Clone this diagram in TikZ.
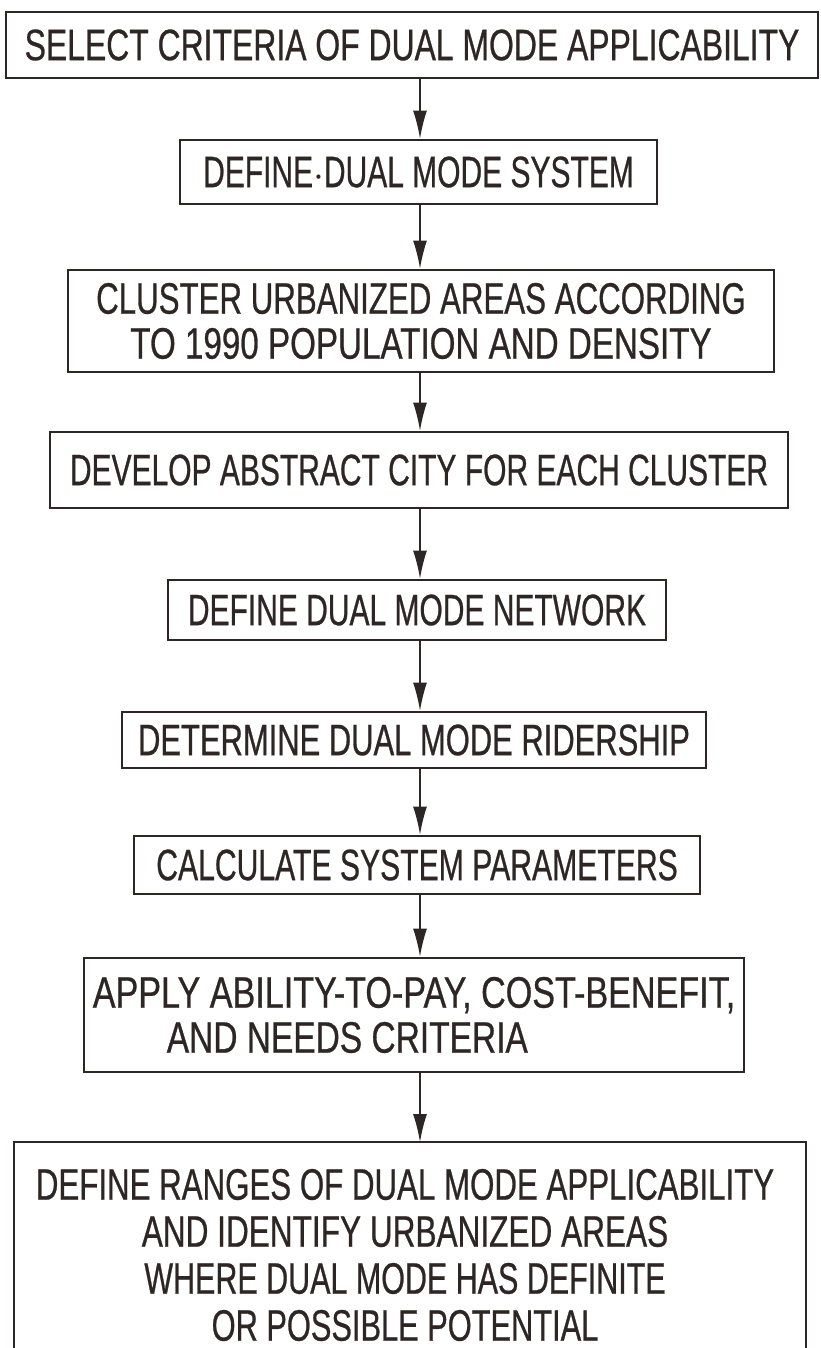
\documentclass[tikz,border=0pt]{standalone}
\usepackage{fontspec}
\usepackage{graphicx}
\setmainfont[FakeStretch=0.725,FakeBold=0.6]{Liberation Sans}
\usetikzlibrary{arrows.meta}
\newcommand{\hsq}[2]{\scalebox{#1}[1]{#2}}
\begin{document}
\begin{tikzpicture}[x=0.5pt,y=-0.5pt,
  stepbox/.style={draw=ink, line width=1.4pt, inner sep=0pt, align=center,
    text=ink, font=\fontsize{22}{22.5}\selectfont},
  flow/.style={draw=ink, line width=0.7pt, -{Latex[length=14pt,width=7pt]}}]
\definecolor{ink}{RGB}{45,38,36}
\useasboundingbox[fill=white] (0,0) rectangle (820,1348);
\coordinate (ax) at (420,0);
\node[stepbox, minimum width=406pt, minimum height=33pt] (b1) at (412,45)
  {SELECT CRITERIA OF DUAL MODE APPLICABILITY};
\node[stepbox, minimum width=238.5pt, minimum height=32pt] (b2) at (418.5,172)
  {\hsq{0.94}{DEFINE$\cdot$DUAL MODE SYSTEM}};
\node[stepbox, minimum width=353pt, minimum height=51pt] (b3) at (421,321)
  {\hsq{0.98}{CLUSTER URBANIZED AREAS ACCORDING}\\\hsq{1.04}{TO 1990 POPULATION AND DENSITY}};
\node[stepbox, minimum width=369pt, minimum height=38pt] (b4) at (419,470)
  {\hsq{0.94}{DEVELOP ABSTRACT CITY FOR EACH CLUSTER}};
\node[stepbox, minimum width=249pt, minimum height=30pt] (b5) at (417,610)
  {\hsq{0.94}{DEFINE DUAL MODE NETWORK}};
\node[stepbox, minimum width=292pt, minimum height=28pt] (b6) at (414,740)
  {\hsq{0.97}{DETERMINE DUAL MODE RIDERSHIP}};
\node[stepbox, minimum width=283pt, minimum height=29pt] (b7) at (417,865)
  {\hsq{0.945}{CALCULATE SYSTEM PARAMETERS}};
\node[stepbox, minimum width=330pt, minimum height=57pt, align=left] (b8) at (414,1015)
  {\hsq{1.07}{APPLY ABILITY-TO-PAY, COST-BENEFIT,}\\\hspace*{37pt}\hsq{1.05}{AND NEEDS CRITERIA}};
\coordinate (b9tl) at (14,1142);
\coordinate (b9tr) at (806,1142);
\coordinate (b9bl) at (14,1352);
\coordinate (b9br) at (806,1352);
\coordinate (b9top) at (420,1142);
\draw[draw=ink, line width=1.4pt] (b9bl) -- (b9tl) -- (b9tr) -- (b9br);
\node[stepbox, draw=none, font=\fontsize{22}{23.5}\selectfont] (b9) at (405,1255)
  {\hsq{0.98}{DEFINE RANGES OF DUAL MODE APPLICABILITY}\\\hsq{0.99}{AND IDENTIFY URBANIZED AREAS}\\\hsq{0.955}{WHERE DUAL MODE HAS DEFINITE}\\\hsq{0.965}{OR POSSIBLE POTENTIAL}};
\draw[flow] (b1.south -| ax) -- (b2.north -| ax);
\draw[flow] (b2.south -| ax) -- (b3.north -| ax);
\draw[flow] (b3.south -| ax) -- (b4.north -| ax);
\draw[flow] (b4.south -| ax) -- (b5.north -| ax);
\draw[flow] (b5.south -| ax) -- (b6.north -| ax);
\draw[flow] (b6.south -| ax) -- (b7.north -| ax);
\draw[flow] (b7.south -| ax) -- (b8.north -| ax);
\draw[flow] (b8.south -| ax) -- (b9top);
\end{tikzpicture}
\end{document}
